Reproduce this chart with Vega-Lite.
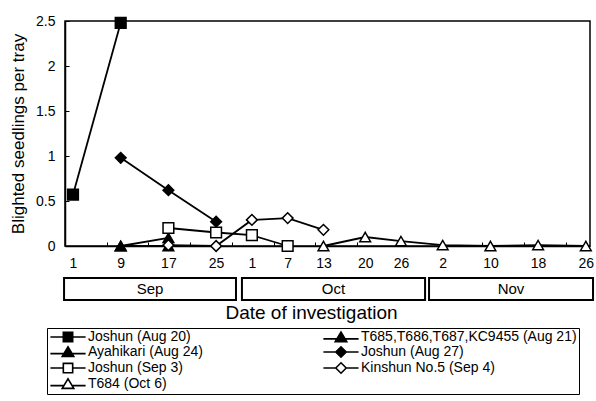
{
  "$schema": "https://vega.github.io/schema/vega-lite/v6.json",
  "background": "white",
  "padding": {"left": 8, "top": 13, "right": 0, "bottom": 0},
  "datasets": {
    "obs": [
      {"series": "Joshun (Aug 20)", "date": "2000-09-01", "value": 0.57},
      {"series": "Joshun (Aug 20)", "date": "2000-09-09", "value": 2.48},
      {"series": "T685,T686,T687,KC9455 (Aug 21)", "date": "2000-09-09", "value": 0},
      {"series": "T685,T686,T687,KC9455 (Aug 21)", "date": "2000-09-17", "value": 0},
      {"series": "Ayahikari (Aug 24)", "date": "2000-09-09", "value": 0},
      {"series": "Ayahikari (Aug 24)", "date": "2000-09-17", "value": 0.09},
      {"series": "Joshun (Aug 27)", "date": "2000-09-09", "value": 0.98},
      {"series": "Joshun (Aug 27)", "date": "2000-09-17", "value": 0.62},
      {"series": "Joshun (Aug 27)", "date": "2000-09-25", "value": 0.27},
      {"series": "Joshun (Sep 3)", "date": "2000-09-17", "value": 0.2},
      {"series": "Joshun (Sep 3)", "date": "2000-09-25", "value": 0.15},
      {"series": "Joshun (Sep 3)", "date": "2000-10-01", "value": 0.12},
      {"series": "Joshun (Sep 3)", "date": "2000-10-07", "value": 0},
      {"series": "Kinshun No.5 (Sep 4)", "date": "2000-09-17", "value": 0.01},
      {"series": "Kinshun No.5 (Sep 4)", "date": "2000-09-25", "value": 0},
      {"series": "Kinshun No.5 (Sep 4)", "date": "2000-10-01", "value": 0.29},
      {"series": "Kinshun No.5 (Sep 4)", "date": "2000-10-07", "value": 0.31},
      {"series": "Kinshun No.5 (Sep 4)", "date": "2000-10-13", "value": 0.18},
      {"series": "T684 (Oct 6)", "date": "2000-10-13", "value": 0},
      {"series": "T684 (Oct 6)", "date": "2000-10-20", "value": 0.1},
      {"series": "T684 (Oct 6)", "date": "2000-10-26", "value": 0.055},
      {"series": "T684 (Oct 6)", "date": "2000-11-02", "value": 0.01},
      {"series": "T684 (Oct 6)", "date": "2000-11-10", "value": 0},
      {"series": "T684 (Oct 6)", "date": "2000-11-18", "value": 0.01},
      {"series": "T684 (Oct 6)", "date": "2000-11-26", "value": 0}
    ],
    "months": [
      {"month": "Sep", "start": "2000-08-30T12:00:00Z", "end": "2000-09-28T08:00:00Z", "mid": "2000-09-13T22:00:00Z"},
      {"month": "Oct", "start": "2000-09-29T08:00:00Z", "end": "2000-10-30T01:00:00Z", "mid": "2000-10-14T16:00:00Z"},
      {"month": "Nov", "start": "2000-10-30T17:00:00Z", "end": "2000-11-27T05:00:00Z", "mid": "2000-11-13T11:00:00Z"}
    ]
  },
  "bounds": "flush",
  "spacing": 32,
  "resolve": {"scale": {"x": "independent", "shape": "independent", "fill": "independent"}},
  "vconcat": [
    {
      "width": 525,
      "height": 225,
      "view": {"stroke": "black", "strokeWidth": 1.5},
      "data": {"name": "obs"},
      "resolve": {"axis": {"x": "independent"}},
      "layer": [
        {
          "mark": {"type": "line", "color": "black", "strokeWidth": 1.8},
          "encoding": {
            "x": {
              "field": "date", "type": "temporal",
              "scale": {"type": "utc", "domain": [
                {"year": 2000, "month": 8, "date": 30, "hours": 15, "minutes": 50, "utc": true},
                {"year": 2000, "month": 11, "date": 26, "hours": 16, "minutes": 50, "utc": true}
              ]},
              "axis": {
                "orient": "bottom", "title": null, "grid": false, "ticks": false, "tickSize": 0,
                "format": "%-d", "labelPadding": 10, "labelFontSize": 14, "labelAngle": 0,
                "labelOverlap": false, "labelFlush": false,
                "values": [
                  {"year": 2000, "month": 9, "date": 1, "utc": true},
                  {"year": 2000, "month": 9, "date": 9, "utc": true},
                  {"year": 2000, "month": 9, "date": 17, "utc": true},
                  {"year": 2000, "month": 9, "date": 25, "utc": true},
                  {"year": 2000, "month": 10, "date": 1, "utc": true},
                  {"year": 2000, "month": 10, "date": 7, "utc": true},
                  {"year": 2000, "month": 10, "date": 13, "utc": true},
                  {"year": 2000, "month": 10, "date": 20, "utc": true},
                  {"year": 2000, "month": 10, "date": 26, "utc": true},
                  {"year": 2000, "month": 11, "date": 2, "utc": true},
                  {"year": 2000, "month": 11, "date": 10, "utc": true},
                  {"year": 2000, "month": 11, "date": 18, "utc": true},
                  {"year": 2000, "month": 11, "date": 26, "utc": true}
                ]
              }
            },
            "y": {
              "field": "value", "type": "quantitative",
              "scale": {"domain": [0, 2.5], "nice": false},
              "axis": {
                "title": "Blighted seedlings per tray", "titleFontSize": 17, "titlePadding": 8,
                "values": [0, 0.5, 1, 1.5, 2, 2.5], "format": "~g", "grid": false,
                "tickSize": -4, "labelPadding": 14, "labelFontSize": 14
              }
            },
            "detail": {"field": "series"}
          }
        },
        {
          "mark": {"type": "point", "filled": true, "stroke": "black", "strokeWidth": 1.5, "size": 115, "opacity": 1},
          "encoding": {
            "x": {
              "field": "date", "type": "temporal",
              "axis": {
                "orient": "bottom", "title": null, "grid": false, "labels": false, "domain": false,
                "ticks": true, "tickSize": -4, "tickColor": "black", "tickWidth": 1,
                "values": [
                  {"year": 2000, "month": 9, "date": 6, "hours": 15, "minutes": 50, "utc": true},
                  {"year": 2000, "month": 9, "date": 13, "hours": 15, "minutes": 50, "utc": true},
                  {"year": 2000, "month": 9, "date": 20, "hours": 15, "minutes": 50, "utc": true},
                  {"year": 2000, "month": 9, "date": 27, "hours": 15, "minutes": 50, "utc": true},
                  {"year": 2000, "month": 10, "date": 4, "hours": 15, "minutes": 50, "utc": true},
                  {"year": 2000, "month": 10, "date": 11, "hours": 15, "minutes": 50, "utc": true},
                  {"year": 2000, "month": 10, "date": 18, "hours": 15, "minutes": 50, "utc": true},
                  {"year": 2000, "month": 10, "date": 25, "hours": 15, "minutes": 50, "utc": true},
                  {"year": 2000, "month": 11, "date": 1, "hours": 15, "minutes": 50, "utc": true},
                  {"year": 2000, "month": 11, "date": 8, "hours": 15, "minutes": 50, "utc": true},
                  {"year": 2000, "month": 11, "date": 15, "hours": 15, "minutes": 50, "utc": true},
                  {"year": 2000, "month": 11, "date": 22, "hours": 15, "minutes": 50, "utc": true}
                ]
              }
            },
            "y": {"field": "value", "type": "quantitative"},
            "shape": {
              "field": "series", "type": "nominal", "legend": null,
              "scale": {
                "domain": ["Joshun (Aug 20)", "T685,T686,T687,KC9455 (Aug 21)", "Ayahikari (Aug 24)", "Joshun (Aug 27)", "Joshun (Sep 3)", "Kinshun No.5 (Sep 4)", "T684 (Oct 6)"],
                "range": ["square", "triangle-up", "triangle-up", "diamond", "square", "diamond", "triangle-up"]
              }
            },
            "fill": {
              "field": "series", "type": "nominal", "legend": null,
              "scale": {
                "domain": ["Joshun (Aug 20)", "T685,T686,T687,KC9455 (Aug 21)", "Ayahikari (Aug 24)", "Joshun (Aug 27)", "Joshun (Sep 3)", "Kinshun No.5 (Sep 4)", "T684 (Oct 6)"],
                "range": ["black", "black", "black", "black", "white", "white", "white"]
              }
            }
          }
        }
      ]
    },
    {
      "width": 525,
      "height": 22,
      "view": {"stroke": null},
      "layer": [
        {
          "data": {"name": "months"},
          "mark": {"type": "rect", "fill": "white", "stroke": "black", "strokeWidth": 2},
          "encoding": {
            "x": {
              "field": "start", "type": "temporal",
              "scale": {"type": "utc", "domain": [
                {"year": 2000, "month": 8, "date": 30, "hours": 15, "minutes": 50, "utc": true},
                {"year": 2000, "month": 11, "date": 26, "hours": 16, "minutes": 50, "utc": true}
              ]},
              "axis": {
                "title": "Date of investigation", "titleFontSize": 19, "titlePadding": 3, "titleX": 246,
                "labels": false, "ticks": false, "domain": false, "grid": false
              }
            },
            "x2": {"field": "end"}
          }
        },
        {
          "data": {"name": "months"},
          "mark": {"type": "text", "fontSize": 15, "color": "black"},
          "encoding": {
            "x": {"field": "mid", "type": "temporal"},
            "text": {"field": "month", "type": "nominal"}
          }
        },
        {
          "data": {"name": "obs"},
          "transform": [{"filter": "false"}],
          "mark": {"type": "point", "filled": true, "stroke": "black", "strokeWidth": 1.6, "opacity": 1},
          "encoding": {
            "shape": {
              "field": "series", "type": "nominal",
              "scale": {
                "domain": ["Joshun (Aug 20)", "Ayahikari (Aug 24)", "Joshun (Sep 3)", "T684 (Oct 6)", "T685,T686,T687,KC9455 (Aug 21)", "Joshun (Aug 27)", "Kinshun No.5 (Sep 4)"],
                "range": [
                  "M-3.2,0H-0.85M0.85,0H3.2M-0.85,-0.85H0.85V0.85H-0.85Z",
                  "M-3.2,0.3H-0.72M0.72,0.3H3.2M-1.05,0.8L0,-0.95L1.05,0.8Z",
                  "M-3.2,0H-0.85M0.85,0H3.2M-0.85,-0.85H0.85V0.85H-0.85Z",
                  "M-3.2,0.3H-0.72M0.72,0.3H3.2M-1.05,0.8L0,-0.95L1.05,0.8Z",
                  "M-3.2,0.3H-0.72M0.72,0.3H3.2M-1.05,0.8L0,-0.95L1.05,0.8Z",
                  "M-3.2,0H-0.95M0.95,0H3.2M-0.95,0L0,-0.95L0.95,0L0,0.95Z",
                  "M-3.2,0H-0.95M0.95,0H3.2M-0.95,0L0,-0.95L0.95,0L0,0.95Z"
                ]
              },
              "legend": {
                "title": null, "orient": "none", "legendX": -18, "legendY": 50, "columns": 2,
                "direction": "vertical",
                "columnPadding": 117, "rowPadding": -3, "padding": 2,
                "symbolSize": 121, "symbolOffset": 12, "labelOffset": 13, "symbolStrokeWidth": 1.6,
                "labelFontSize": 14, "labelColor": "black",
                "strokeColor": "black", "fillColor": "white", "labelLimit": 400,
                "encoding": {
                  "symbols": {
                    "fill": {
                      "condition": {"test": "indexof(['Joshun (Sep 3)', 'Kinshun No.5 (Sep 4)', 'T684 (Oct 6)'], datum.value) >= 0", "value": "white"},
                      "value": "black"
                    },
                    "stroke": {"value": "black"},
                    "strokeWidth": {"value": 1.6},
                    "opacity": {"value": 1}
                  }
                }
              }
            }
          }
        }
      ]
    }
  ],
  "config": {
    "font": "Liberation Sans",
    "axis": {
      "labelFont": "Liberation Sans", "titleFont": "Liberation Sans",
      "labelColor": "black", "titleColor": "black", "titleFontWeight": "normal",
      "domainColor": "black", "domainWidth": 1.5, "tickColor": "black"
    },
    "legend": {"labelFont": "Liberation Sans"},
    "text": {"font": "Liberation Sans"}
  }
}
